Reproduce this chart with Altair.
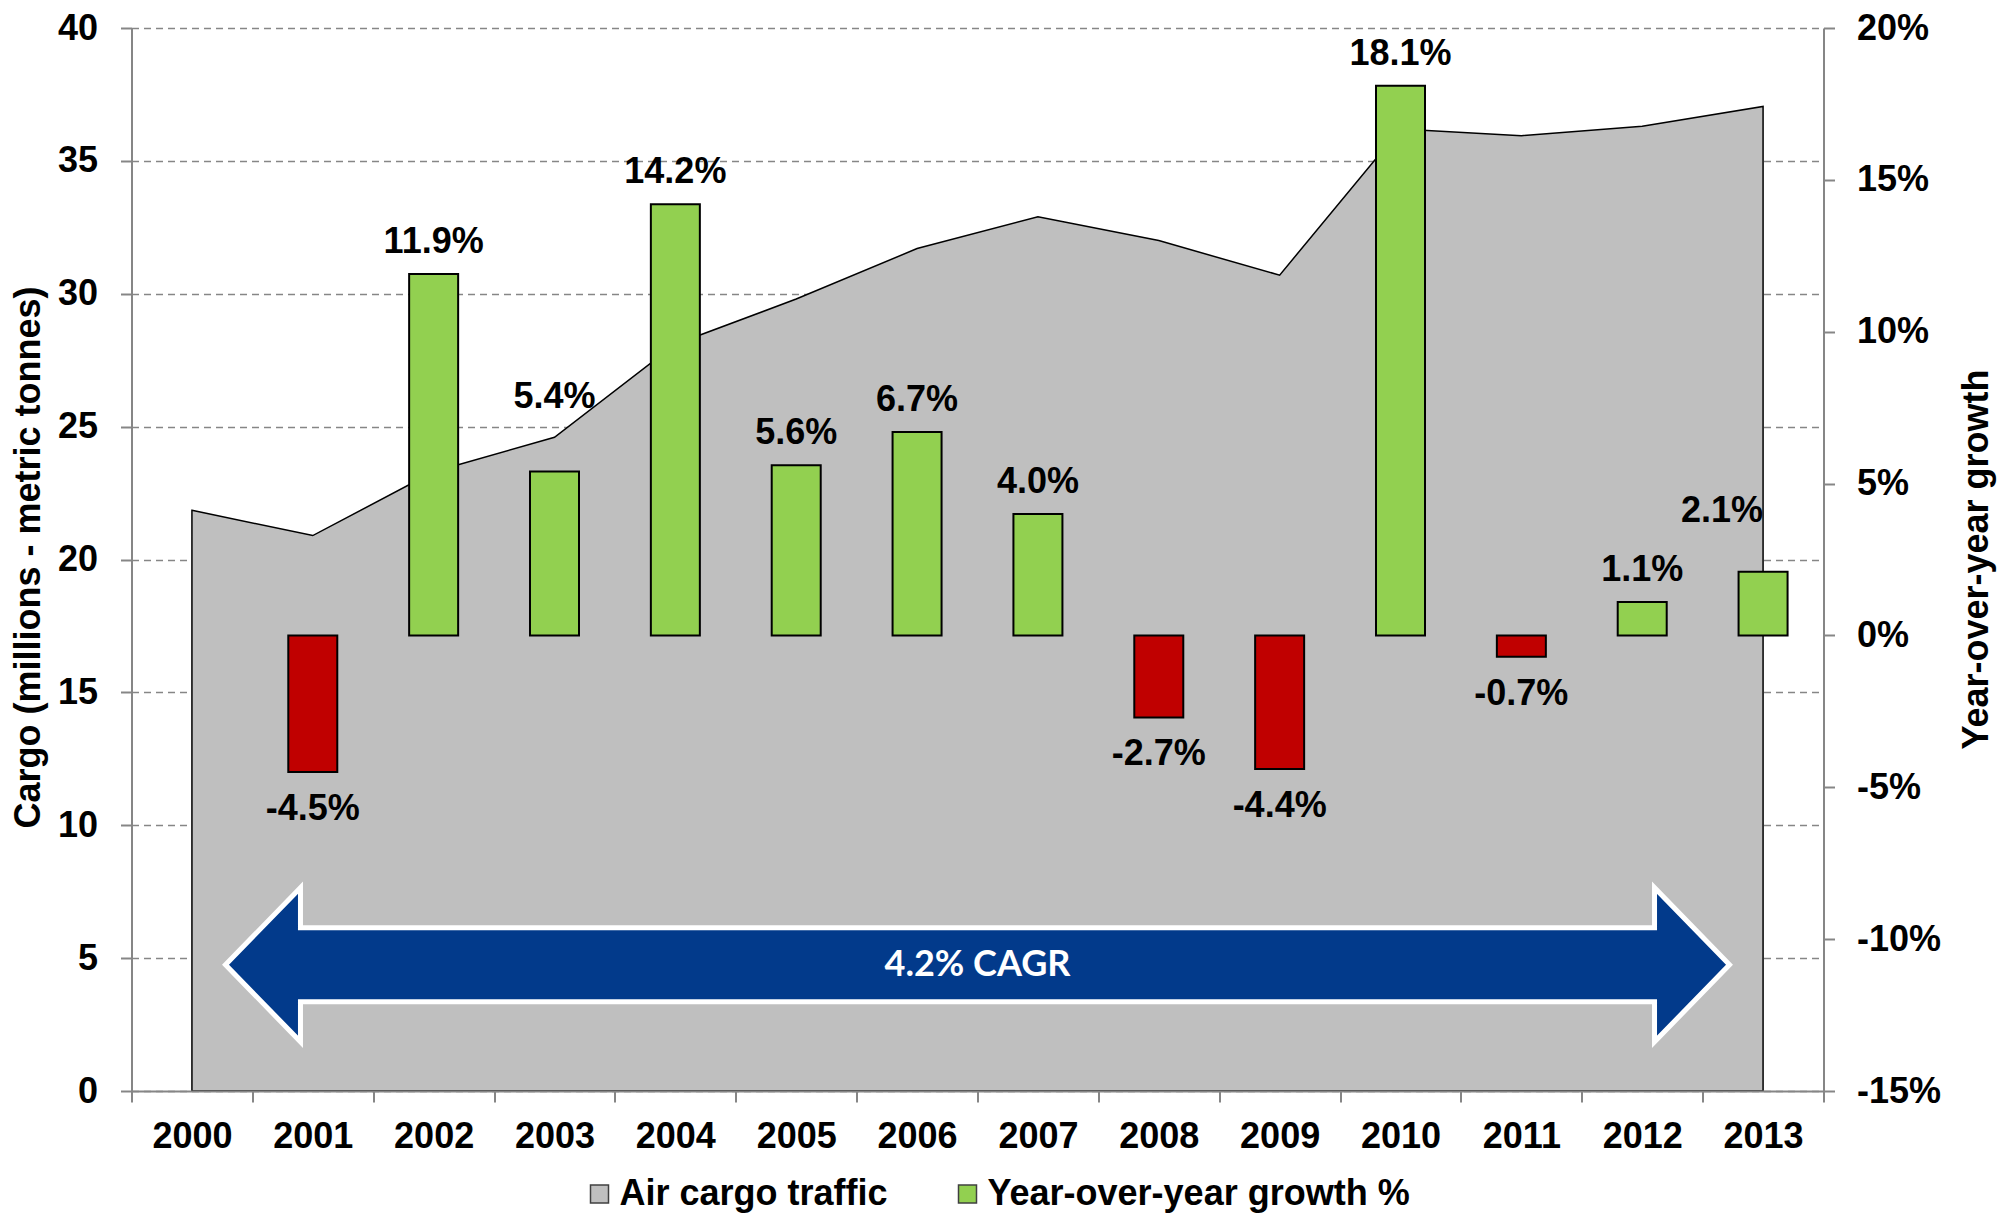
import altair as alt
import pandas as pd

# ---------------- data ----------------
years = ["2000", "2001", "2002", "2003", "2004", "2005", "2006",
         "2007", "2008", "2009", "2010", "2011", "2012", "2013"]
cargo = [21.85, 20.9, 23.3, 24.6, 28.1, 29.8, 31.7,
         32.9, 32.0, 30.7, 36.2, 35.95, 36.3, 37.05]
growth_years = years[1:]
growth = [-4.5, 11.9, 5.4, 14.2, 5.6, 6.7, 4.0, -2.7, -4.4, 18.1, -0.7, 1.1, 2.1]
growth_labels = ["-4.5%", "11.9%", "5.4%", "14.2%", "5.6%", "6.7%", "4.0%",
                 "-2.7%", "-4.4%", "18.1%", "-0.7%", "1.1%", "2.1%"]
left_ticks = [0, 5, 10, 15, 20, 25, 30, 35, 40]
right_ticks = [-15, -10, -5, 0, 5, 10, 15, 20]
series_names = ["Air cargo traffic", "Year-over-year growth %"]
series_colors = ["#BFBFBF", "#92D050"]
cagr_label = ["4.2% CAGR"]
cagr_x = "2007"      # arrow centred on the 2006/2007 boundary
cagr_y = 4.75        # arrow centre height (left axis units)

df_cargo = pd.DataFrame({"year": years, "cargo": cargo,
                         "series": [series_names[0]] * len(years)})
df_growth = pd.DataFrame({"year": growth_years, "growth": growth, "label": growth_labels,
                          "series": [series_names[1]] * len(growth_years)})
df_cagr = pd.DataFrame({"label": cagr_label})

FONT = "Liberation Sans, Arial, sans-serif"
GREY = "#868686"

x_scale = alt.Scale(type="band", domain=years, paddingInner=0, paddingOuter=0)
x_axis = alt.Axis(title=None, labelAngle=0, tickBand="extent", labelPadding=17,
                  grid=False, zindex=1)


def xenc():
    return alt.X("year:O", scale=x_scale, axis=x_axis, bandPosition=0.5)


color_scale = alt.Scale(domain=series_names, range=series_colors)
legend = alt.Legend(orient="none", legendX=450, legendY=1148, direction="horizontal",
                    title=None, symbolType="square", symbolSize=324,
                    symbolStrokeColor="#404040", symbolStrokeWidth=1.5,
                    symbolOpacity=1, labelFont=FONT, labelFontSize=36,
                    labelFontWeight="bold", labelColor="#000000", labelOffset=2,
                    columnPadding=61, padding=0, labelLimit=1000)

# ---------------- left (cargo) group ----------------
y_left = alt.Y("cargo:Q", scale=alt.Scale(domain=[0, 40], nice=False),
               axis=alt.Axis(orient="left", values=left_ticks, grid=True,
                             labelPadding=23, title="Cargo (millions - metric tonnes)",
                             titleAngle=270, titleX=-103, titleY=529,
                             titleAlign="center", titleBaseline="middle"))

area = alt.Chart(df_cargo).mark_area(stroke="#000000", strokeWidth=1.5,
                                     opacity=1, fillOpacity=1).encode(
    x=xenc(),
    y=y_left,
    color=alt.Color("series:N", scale=color_scale, legend=legend),
)

arrow_path = ("M-1,0 L-0.9003,-0.1024 L-0.9003,-0.0492 L0.9003,-0.0492 "
              "L0.9003,-0.1024 L1,0 L0.9003,0.1024 L0.9003,0.0492 "
              "L-0.9003,0.0492 L-0.9003,0.1024 Z")

arrow = alt.Chart(df_cagr).mark_point(shape=arrow_path, size=2262016, filled=True,
                                      fill="#023A8B", stroke="#FFFFFF",
                                      strokeWidth=5, opacity=1).encode(
    x=alt.XDatum(cagr_x, type="ordinal", bandPosition=0),
    y=alt.YDatum(cagr_y, type="quantitative"),
)

arrow_text = alt.Chart(df_cagr).mark_text(font="Lato, Open Sans, sans-serif",
                                          fontSize=36, fontWeight="bold",
                                          color="#FFFFFF", align="center",
                                          baseline="middle").encode(
    x=alt.XDatum(cagr_x, type="ordinal", bandPosition=0),
    y=alt.YDatum(cagr_y, type="quantitative"),
    text="label:N",
)

left = alt.layer(area, arrow, arrow_text)

# ---------------- right (growth) group ----------------
right_scale = alt.Scale(domain=[-15, 20], nice=False, zero=False)
right_axis = alt.Axis(orient="right", values=right_ticks, labelExpr="datum.value + '%'",
                      grid=False, labelPadding=22, title="Year-over-year growth",
                      titleAngle=270, titleX=153, titleY=531,
                      titleAlign="center", titleBaseline="middle")


def yright():
    return alt.Y("growth:Q", scale=right_scale, axis=right_axis)


bars = alt.Chart(df_growth).mark_bar(size=49, stroke="#000000", strokeWidth=2,
                                     opacity=1).encode(
    x=xenc(),
    y=yright(),
    y2=alt.Y2Datum(0),
    color={"condition": {"test": "datum.growth < 0", "value": "#C00000"},
           "field": "series", "type": "nominal", "scale": color_scale,
           "legend": legend},
)

txt = dict(font=FONT, fontSize=36, fontWeight="bold", color="#000000",
           align="center", baseline="alphabetic")

pos_labels = alt.Chart(df_growth).transform_filter(
    "datum.growth > 0 && datum.year != '2003' && datum.year != '2013'"
).mark_text(dy=-21, **txt).encode(x=xenc(), y=yright(), text="label:N")

neg_labels = alt.Chart(df_growth).transform_filter(
    "datum.growth < 0"
).mark_text(dy=48, **txt).encode(x=xenc(), y=yright(), text="label:N")

label_2003 = alt.Chart(df_growth).transform_filter(
    "datum.year == '2003'"
).mark_text(dy=-63, **txt).encode(x=xenc(), y=yright(), text="label:N")

label_2013 = alt.Chart(df_growth).transform_filter(
    "datum.year == '2013'"
).mark_text(dy=-50, dx=-41, **txt).encode(x=xenc(), y=yright(), text="label:N")

right = alt.layer(bars, pos_labels, neg_labels, label_2003, label_2013)

chart = alt.layer(left, right).resolve_scale(y="independent").properties(
    width=1692, height=1063,
    padding={"left": 123.5, "top": 20, "right": 175, "bottom": 122},
    autosize=alt.AutoSizeParams(type="none"),
    background="#FFFFFF",
).configure_view(strokeWidth=0).configure_axis(
    labelFont=FONT, labelFontSize=36, labelFontWeight="bold", labelColor="#000000",
    titleFont=FONT, titleFontSize=36, titleFontWeight="bold", titleColor="#000000",
    domainColor=GREY, domainWidth=2, tickColor=GREY, tickWidth=2, tickSize=11,
    gridColor=GREY, gridDash=[7, 5], gridWidth=1.5,
)

chart.save("out.html", embed_options={"renderer": "svg", "actions": False})
